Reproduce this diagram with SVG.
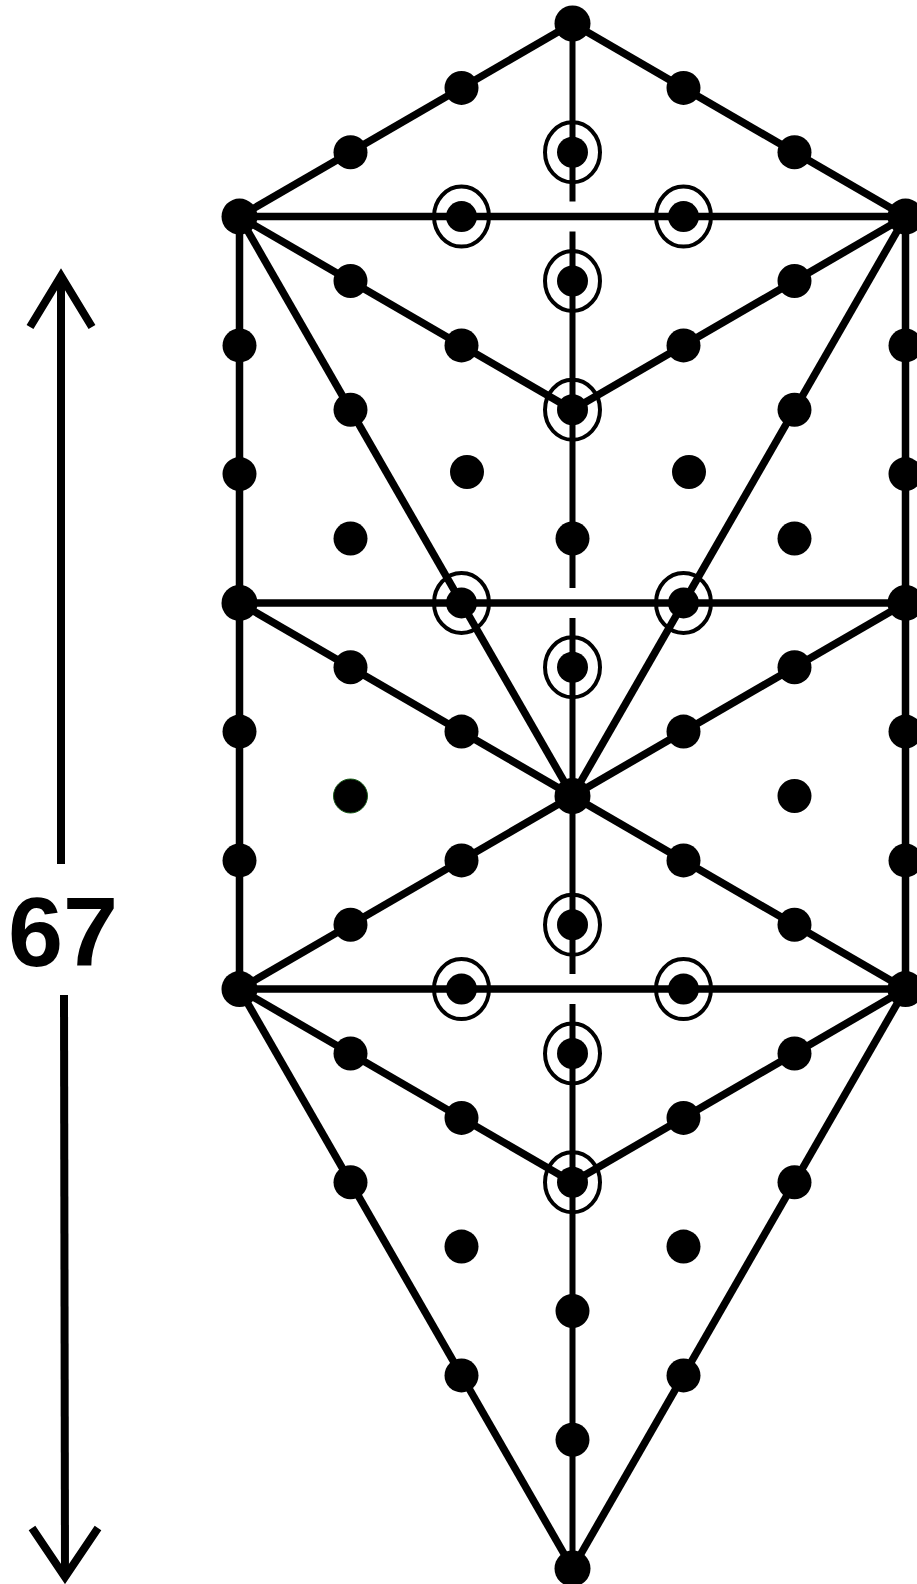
<svg xmlns="http://www.w3.org/2000/svg" width="917" height="1584" viewBox="0 0 917 1584">
<defs>
<style>
.ln{stroke:#000;stroke-width:7.5;fill:none;stroke-linecap:butt}
.cl{stroke:#000;stroke-width:6;fill:none}
.ar{stroke:#000;stroke-width:8;fill:none}
.d{fill:#000}
.ring{fill:none;stroke:#000;stroke-width:4}
.lbl{font-family:"Liberation Sans",Arial,sans-serif;font-weight:bold;font-size:99px;fill:#000}
</style>
<circle id="dot" r="17" class="d"/>
<circle id="vdot" r="18" class="d"/>
<g id="cdot"><ellipse rx="27.5" ry="30" class="ring"/><circle r="15.5" class="d"/></g>
</defs>
<rect width="917" height="1584" fill="#fff"/>
<g id="connectors">
<line class="ln" x1="572.5" y1="23.5" x2="239.5" y2="216.6"/>
<line class="ln" x1="572.5" y1="23.5" x2="905.5" y2="216.6"/>
<line class="ln" x1="239.5" y1="216.6" x2="905.5" y2="216.6"/>
<line class="ln" x1="239.5" y1="216.6" x2="572.5" y2="409.8"/>
<line class="ln" x1="905.5" y1="216.6" x2="572.5" y2="409.8"/>
<line class="ln" x1="239.5" y1="216.6" x2="572.5" y2="796"/>
<line class="ln" x1="905.5" y1="216.6" x2="572.5" y2="796"/>
<line class="ln" x1="239.5" y1="216.6" x2="239.5" y2="989.1"/>
<line class="ln" x1="905.5" y1="216.6" x2="905.5" y2="989.1"/>
<line class="ln" x1="239.5" y1="602.9" x2="905.5" y2="602.9"/>
<line class="ln" x1="239.5" y1="602.9" x2="572.5" y2="796"/>
<line class="ln" x1="905.5" y1="602.9" x2="572.5" y2="796"/>
<line class="ln" x1="572.5" y1="796" x2="239.5" y2="989.1"/>
<line class="ln" x1="572.5" y1="796" x2="905.5" y2="989.1"/>
<line class="ln" x1="239.5" y1="989.1" x2="905.5" y2="989.1"/>
<line class="ln" x1="239.5" y1="989.1" x2="572.5" y2="1182.3"/>
<line class="ln" x1="905.5" y1="989.1" x2="572.5" y2="1182.3"/>
<line class="ln" x1="239.5" y1="989.1" x2="572.5" y2="1568.5"/>
<line class="ln" x1="905.5" y1="989.1" x2="572.5" y2="1568.5"/>
<line class="cl" x1="572.5" y1="23.5" x2="572.5" y2="201.6"/>
<line class="cl" x1="572.5" y1="231.6" x2="572.5" y2="587.9"/>
<line class="cl" x1="572.5" y1="617.9" x2="572.5" y2="974.1"/>
<line class="cl" x1="572.5" y1="1004.1" x2="572.5" y2="1568.5"/>
</g>
<g id="arrow">
<line class="ar" x1="61" y1="276" x2="61" y2="864"/>
<polyline class="ar" points="30,327 61,276 92,327"/>
<line class="ar" x1="64" y1="995" x2="65" y2="1577"/>
<polyline class="ar" points="32,1528 65,1577 98,1528"/>
<text class="lbl" x="63" y="966" text-anchor="middle">67</text>
</g>
<g id="vertices">
<use href="#vdot" x="572.5" y="23.5"/>
<use href="#vdot" x="239.5" y="216.6"/>
<use href="#vdot" x="905.5" y="216.6"/>
<use href="#vdot" x="239.5" y="602.9"/>
<use href="#vdot" x="905.5" y="602.9"/>
<use href="#vdot" x="572.5" y="796"/>
<use href="#vdot" x="239.5" y="989.1"/>
<use href="#vdot" x="905.5" y="989.1"/>
<use href="#vdot" x="572.5" y="1568.5"/>
</g>
<g id="dots">
<use href="#dot" x="461.5" y="87.9"/>
<use href="#dot" x="683.5" y="87.9"/>
<use href="#dot" x="350.5" y="152.3"/>
<use href="#dot" x="794.5" y="152.3"/>
<use href="#dot" x="350.5" y="281"/>
<use href="#dot" x="794.5" y="281"/>
<use href="#dot" x="461.5" y="345.4"/>
<use href="#dot" x="683.5" y="345.4"/>
<use href="#dot" x="239.5" y="345.4"/>
<use href="#dot" x="905.5" y="345.4"/>
<use href="#dot" x="350.5" y="409.8"/>
<use href="#dot" x="794.5" y="409.8"/>
<use href="#dot" x="467" y="472"/>
<use href="#dot" x="689" y="472"/>
<use href="#dot" x="239.5" y="474.1"/>
<use href="#dot" x="905.5" y="474.1"/>
<use href="#dot" x="350.5" y="538.5"/>
<use href="#dot" x="572.5" y="538.5"/>
<use href="#dot" x="794.5" y="538.5"/>
<use href="#dot" x="350.5" y="667.3"/>
<use href="#dot" x="794.5" y="667.3"/>
<use href="#dot" x="461.5" y="731.6"/>
<use href="#dot" x="683.5" y="731.6"/>
<use href="#dot" x="239.5" y="731.6"/>
<use href="#dot" x="905.5" y="731.6"/>
<circle cx="350.5" cy="796" r="17" fill="#000" stroke="#1a5c1a" stroke-width="1"/>
<use href="#dot" x="794.5" y="796"/>
<use href="#dot" x="461.5" y="860.4"/>
<use href="#dot" x="683.5" y="860.4"/>
<use href="#dot" x="239.5" y="860.4"/>
<use href="#dot" x="905.5" y="860.4"/>
<use href="#dot" x="350.5" y="924.8"/>
<use href="#dot" x="794.5" y="924.8"/>
<use href="#dot" x="350.5" y="1053.5"/>
<use href="#dot" x="794.5" y="1053.5"/>
<use href="#dot" x="461.5" y="1117.9"/>
<use href="#dot" x="683.5" y="1117.9"/>
<use href="#dot" x="350.5" y="1182.3"/>
<use href="#dot" x="794.5" y="1182.3"/>
<use href="#dot" x="461.5" y="1246.6"/>
<use href="#dot" x="683.5" y="1246.6"/>
<use href="#dot" x="572.5" y="1311"/>
<use href="#dot" x="461.5" y="1375.4"/>
<use href="#dot" x="683.5" y="1375.4"/>
<use href="#dot" x="572.5" y="1439.8"/>
</g>
<g id="circled">
<use href="#cdot" x="572.5" y="152.3"/>
<use href="#cdot" x="461.5" y="216.6"/>
<use href="#cdot" x="683.5" y="216.6"/>
<use href="#cdot" x="572.5" y="281"/>
<use href="#cdot" x="572.5" y="409.8"/>
<use href="#cdot" x="461.5" y="602.9"/>
<use href="#cdot" x="683.5" y="602.9"/>
<use href="#cdot" x="572.5" y="667.3"/>
<use href="#cdot" x="572.5" y="924.8"/>
<use href="#cdot" x="461.5" y="989.1"/>
<use href="#cdot" x="683.5" y="989.1"/>
<use href="#cdot" x="572.5" y="1053.5"/>
<use href="#cdot" x="572.5" y="1182.3"/>
</g>
</svg>
